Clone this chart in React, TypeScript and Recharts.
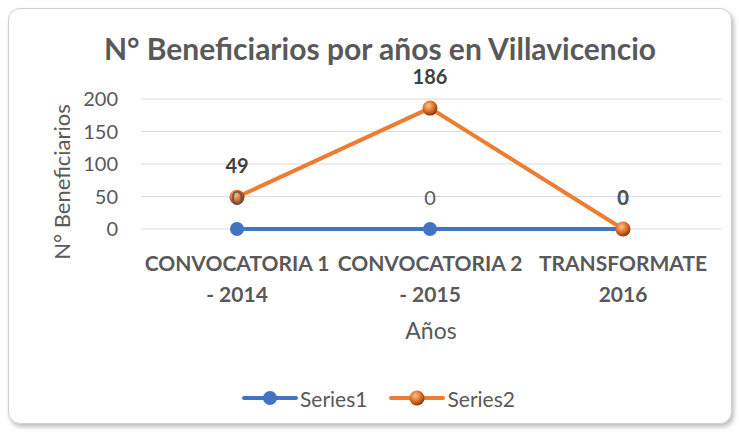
import React from "react";
import { LineChart, Line, XAxis, YAxis, CartesianGrid, LabelList } from "recharts";

const categories = ["CONVOCATORIA 1\n- 2014", "CONVOCATORIA 2\n- 2015", "TRANSFORMATE\n2016"];
const series1 = [0, 0, 0];
const series2 = [49, 186, 0];
const yTicks = [0, 50, 100, 150, 200];

const data = categories.map((name, i) => ({ name, s1: series1[i], s2: series2[i] }));

const FONT = "Lato, 'Open Sans', sans-serif";
const GRAY = "#595959";
const BLUE = "#4472C4";
const ORANGE = "#ED7D31";

const CategoryTick = (props: any) => {
  const { x, y, payload } = props;
  const lines = String(payload.value).split("\n");
  return (
    <g>
      {lines.map((l, i) => (
        <text
          key={i}
          x={x}
          y={y + 33 + i * 31}
          textAnchor="middle"
          dominantBaseline="central"
          fontFamily={FONT}
          fontWeight="bold"
          fontSize={21}
          fill={GRAY}
        >
          {l}
        </text>
      ))}
    </g>
  );
};

const OrangeDot = (props: any) => {
  const { cx, cy } = props;
  if (cx == null || cy == null) return null;
  return <circle cx={cx} cy={cy} r={7.5} fill="url(#orangeBall)" />;
};

const BlueDot = (props: any) => {
  const { cx, cy } = props;
  if (cx == null || cy == null) return null;
  return <circle cx={cx} cy={cy} r={7} fill={BLUE} />;
};

const labelAbove = (bold: boolean, color: string) => (props: any) => {
  const { x, y, value } = props;
  return (
    <text
      x={x}
      y={y - 32}
      textAnchor="middle"
      dominantBaseline="central"
      fontFamily={FONT}
      fontWeight={bold ? "bold" : "normal"}
      fontSize={20}
      fill={color}
    >
      {value}
    </text>
  );
};

export default function App() {
  return (
    <div style={{ position: "absolute", left: 0, top: 0, width: 739, height: 433, background: "#fff" }}>
      <div
        style={{
          position: "absolute",
          left: 8,
          top: 8,
          width: 722,
          height: 414,
          border: "1px solid #d0d0d0",
          borderRadius: 12,
          boxShadow: "2px 3px 4px rgba(0,0,0,0.25)",
          background: "#fff",
        }}
      />
      <div
        style={{
          position: "absolute",
          left: 0,
          width: 760,
          top: 31,
          textAlign: "center",
          fontFamily: FONT,
          fontWeight: "bold",
          fontSize: 30,
          lineHeight: "34px",
          color: GRAY,
        }}
      >
        N° Beneficiarios por años en Villavicencio
      </div>
      <div style={{ position: "absolute", left: 0, top: 0 }}>
        <LineChart width={739} height={433} data={data} margin={{ top: 99, right: 18, bottom: 94, left: 41 }}>
          <defs>
            <radialGradient id="orangeBall" cx="40%" cy="35%" r="65%">
              <stop offset="0%" stopColor="#f8c39a" />
              <stop offset="55%" stopColor="#e0732a" />
              <stop offset="100%" stopColor="#8a3a08" />
            </radialGradient>
          </defs>
          <CartesianGrid vertical={false} stroke="#d9d9d9" strokeWidth={1} />
          <XAxis
            dataKey="name"
            axisLine={false}
            tickLine={false}
            tickSize={0}
            tickMargin={0}
            height={110}
            interval={0}
            padding={{ left: 96, right: 98 }}
            tick={<CategoryTick />}
            label={(p: any) => {
              const vb = p.viewBox;
              return (
                <text
                  x={vb.x + vb.width / 2}
                  y={330}
                  textAnchor="middle"
                  dominantBaseline="central"
                  fontFamily={FONT}
                  fontSize={23}
                  fill={GRAY}
                >
                  Años
                </text>
              );
            }}
          />
          <YAxis
            domain={[0, 200]}
            ticks={yTicks}
            width={100}
            axisLine={false}
            tickLine={false}
            tickSize={0}
            tickMargin={23}
            tick={{ fontFamily: FONT, fontSize: 20, fill: GRAY }}
            label={(p: any) => {
              const vb = p.viewBox;
              const cx = 61;
              const cy = vb.y + vb.height / 2 + 18;
              return (
                <text
                  x={cx}
                  y={cy}
                  transform={`rotate(-90, ${cx}, ${cy})`}
                  textAnchor="middle"
                  dominantBaseline="central"
                  fontFamily={FONT}
                  fontSize={22}
                  fill={GRAY}
                >
                  N° Beneficiarios
                </text>
              );
            }}
          />
          <Line
            dataKey="s1"
            stroke={BLUE}
            strokeWidth={4}
            dot={<BlueDot />}
            activeDot={false}
            isAnimationActive={false}
          />
          <Line
            dataKey="s2"
            type="linear"
            stroke={ORANGE}
            strokeWidth={4}
            dot={<OrangeDot />}
            activeDot={false}
            isAnimationActive={false}
          >
            <LabelList dataKey="s2" content={labelAbove(true, "#404040")} />
          </Line>
          <Line
            dataKey="s1"
            stroke="none"
            dot={false}
            activeDot={false}
            legendType="none"
            isAnimationActive={false}
          >
            <LabelList dataKey="s1" content={labelAbove(false, GRAY)} />
          </Line>
        </LineChart>
      </div>
      <div
        style={{
          position: "absolute",
          left: 242,
          top: 385,
          display: "flex",
          alignItems: "center",
          fontFamily: FONT,
          fontSize: 21,
          color: GRAY,
        }}
      >
        <svg width={56} height={26}>
          <line x1={2} y1={13} x2={54} y2={13} stroke={BLUE} strokeWidth={4} strokeLinecap="round" />
          <circle cx={28} cy={13} r={7} fill={BLUE} />
        </svg>
        <span style={{ marginLeft: 2, marginRight: 22 }}>Series1</span>
        <svg width={56} height={26}>
          <defs>
            <radialGradient id="orangeBallLeg" cx="40%" cy="35%" r="65%">
              <stop offset="0%" stopColor="#f8c39a" />
              <stop offset="55%" stopColor="#e0732a" />
              <stop offset="100%" stopColor="#8a3a08" />
            </radialGradient>
          </defs>
          <line x1={2} y1={13} x2={54} y2={13} stroke={ORANGE} strokeWidth={4} strokeLinecap="round" />
          <circle cx={28} cy={13} r={7.5} fill="url(#orangeBallLeg)" />
        </svg>
        <span style={{ marginLeft: 2 }}>Series2</span>
      </div>
    </div>
  );
}
